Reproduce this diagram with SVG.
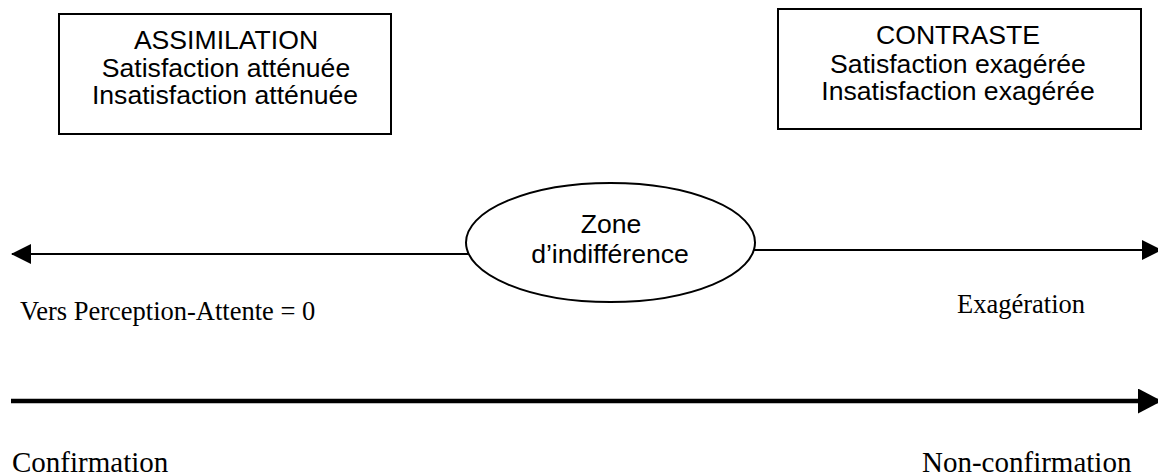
<svg xmlns="http://www.w3.org/2000/svg" width="1158" height="476" viewBox="0 0 1158 476">
<style>
.box{fill:#fff;stroke:#000;stroke-width:2}
.sans{font-family:"Liberation Sans",Arial,sans-serif;font-size:26.6px;fill:#000;text-anchor:middle}
.serif{font-family:"Liberation Serif","Times New Roman",serif;font-size:26.5px;fill:#000}
.big{font-size:29px}
.conn{stroke:#000;fill:none}
</style>
<defs>
<marker id="ah" markerUnits="userSpaceOnUse" markerWidth="20" markerHeight="20" refX="19" refY="10" orient="auto" viewBox="0 0 20 20">
<path d="M0,0 L20,10 L0,20 Z" fill="#000"/>
</marker>
<marker id="ahb" markerUnits="userSpaceOnUse" markerWidth="24" markerHeight="25" refX="23" refY="12.5" orient="auto" viewBox="0 0 24 25">
<path d="M0,0 L24,12.5 L0,25 Z" fill="#000"/>
</marker>
</defs>
<g id="connectors">
<line class="conn" x1="468" y1="254" x2="12" y2="254" stroke-width="2" marker-end="url(#ah)"/>
<line class="conn" x1="754" y1="250" x2="1161" y2="250" stroke-width="2" marker-end="url(#ah)"/>
<line class="conn" x1="11" y1="401" x2="1161" y2="401" stroke-width="4.5" marker-end="url(#ahb)"/>
</g>
<g id="assimilation">
<rect class="box" x="59" y="14" width="332" height="120"/>
<text class="sans" x="226" y="49">ASSIMILATION</text>
<text class="sans" x="226" y="77">Satisfaction atténuée</text>
<text class="sans" x="225" y="104">Insatisfaction atténuée</text>
</g>
<g id="contraste">
<rect class="box" x="778" y="9" width="363" height="120"/>
<text class="sans" x="958" y="44">CONTRASTE</text>
<text class="sans" x="958" y="73">Satisfaction exagérée</text>
<text class="sans" x="958" y="100">Insatisfaction exagérée</text>
</g>
<g id="zone">
<ellipse class="box" cx="610.5" cy="242.5" rx="144.5" ry="59.5"/>
<text class="sans" x="611" y="233">Zone</text>
<text class="sans" x="610" y="263">d’indifférence</text>
</g>
<g id="labels">
<text class="serif" x="20" y="320">Vers Perception-Attente = 0</text>
<text class="serif" x="957" y="313">Exagération</text>
<text class="serif big" x="12" y="472">Confirmation</text>
<text class="serif big" x="922" y="472">Non-confirmation</text>
</g>
</svg>
